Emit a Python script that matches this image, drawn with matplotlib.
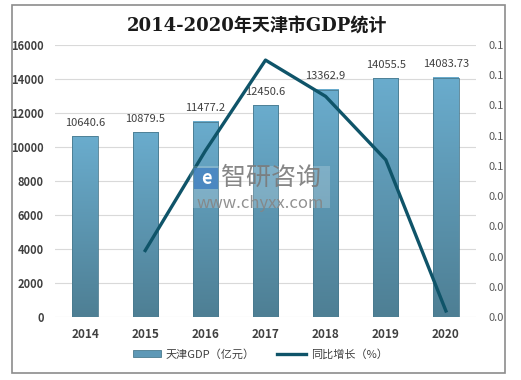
import math
import numpy as np
import matplotlib
matplotlib.use("Agg")
import matplotlib.pyplot as plt
from matplotlib.colors import LinearSegmentedColormap
from matplotlib.patches import Rectangle, Patch
from matplotlib.lines import Line2D
from matplotlib.ticker import FuncFormatter

plt.rcParams['font.family'] = ['Noto Sans CJK SC', 'DejaVu Sans']

years = ['2014', '2015', '2016', '2017', '2018', '2019', '2020']
gdp = [10640.6, 10879.5, 11477.2, 12450.6, 13362.9, 14055.5, 14083.73]
gdp_labels = ['10640.6', '10879.5', '11477.2', '12450.6', '13362.9', '14055.5', '14083.73']
# growth line starts in 2015
growth_years = ['2015', '2016', '2017', '2018', '2019', '2020']
growth = [0.022, 0.055, 0.085, 0.073, 0.052, 0.002]

title = '2014-2020年天津市GDP统计'
bar_name = '天津GDP（亿元）'
line_name = '同比增长（%）'

txt = '#404040'
line_color = '#0f5469'
grad = LinearSegmentedColormap.from_list('g', ['#4e7f94', '#6aaccd'])

fig = plt.figure(figsize=(5.21, 3.80), dpi=100)
fig.patches.append(Rectangle((12 / 521, 7 / 380), 493 / 521, 368 / 380,
                             transform=fig.transFigure, fill=False,
                             edgecolor='#8c8c8c', linewidth=1.2))

ax = fig.add_axes([55 / 521, 63 / 380, 421 / 521, 272 / 380])
x = np.arange(len(years))
bars = ax.bar(x, gdp, width=0.42, facecolor='none', edgecolor='#4a7a8e',
              linewidth=0.6, zorder=3)
g = np.linspace(0, 1, 100).reshape(-1, 1)
for b, lab in zip(bars, gdp_labels):
    x0, w, h = b.get_x(), b.get_width(), b.get_height()
    ax.imshow(g, extent=[x0, x0 + w, 0, h], origin='lower', aspect='auto',
              cmap=grad, zorder=2)
    ax.text(x0 + w / 2, h + 500, lab, ha='center', va='bottom',
            fontsize=8, color=txt, zorder=4)

ax.set_xlim(-0.5, len(years) - 0.5)
ax.set_ylim(0, 16000)
ax.set_yticks(np.arange(0, 16001, 2000))
ax.set_xticks(x)
ax.set_xticklabels(years, fontweight='bold', fontsize=8.5, color=txt)
ax.grid(axis='y', color='#d9d9d9', linewidth=0.8, zorder=0)
ax.set_axisbelow(True)
for s in ax.spines.values():
    s.set_visible(False)
ax.tick_params(axis='both', length=0, colors=txt)
ax.tick_params(axis='y', pad=8, labelsize=8)
ax.tick_params(axis='x', pad=8)
for t in ax.get_yticklabels():
    t.set_fontweight('bold')

ax2 = ax.twinx()
gx = [years.index(y) for y in growth_years]
ax2.plot(gx, growth, color=line_color, linewidth=2.4, zorder=5)
ax2.set_ylim(0, 0.09)
ax2.set_yticks(np.arange(0, 0.0901, 0.01))
ax2.yaxis.set_major_formatter(FuncFormatter(
    lambda v, p: '%.1f' % (math.floor(v * 10 + 0.5 + 1e-9) / 10)))
ax2.tick_params(axis='y', length=0, pad=9, labelsize=8, colors='#595959')
for s in ax2.spines.values():
    s.set_visible(False)

fig.text(257 / 521, 1 - 27 / 380, title, ha='center', va='center',
         fontsize=13, fontweight='bold', color='#1a1a1a',
         family=['DejaVu Serif', 'Noto Sans CJK SC'])

# watermark
wm = dict(transform=fig.transFigure, zorder=6)
fig.patches.append(Rectangle((190 / 521, 1 - 208 / 380), 140 / 521, 42 / 380,
                             facecolor='white', edgecolor='none', alpha=0.2, **wm))
fig.patches.append(Rectangle((194 / 521, 1 - 189 / 380), 24 / 521, 21 / 380,
                             facecolor='#3f7fc0', edgecolor='none', alpha=0.8, **wm))
fig.text(206 / 521, 1 - 178.5 / 380, 'e', ha='center', va='center',
         fontsize=13, fontweight='bold', color='white', zorder=7)
fig.text(221 / 521, 1 - 178 / 380, '智研咨询', ha='left', va='center',
         fontsize=18, color='#7a7a7a', alpha=0.9, zorder=7)
fig.text(260 / 521, 1 - 203 / 380, 'www.chyxx.com', ha='center', va='center',
         fontsize=12, color='#858585', alpha=0.9, zorder=7)

handles = [Patch(facecolor='#5d98b6', edgecolor='#4a7a8e', linewidth=0.6),
           Line2D([0], [0], color=line_color, linewidth=2.4)]
fig.legend(handles, [bar_name, line_name], loc='center',
           bbox_to_anchor=(260 / 521, 1 - 354 / 380), ncol=2, frameon=False,
           fontsize=8, handlelength=2.6, handleheight=0.6, columnspacing=2.0,
           handletextpad=0.4, labelcolor=txt)

fig.savefig('out.png', dpi=100)
